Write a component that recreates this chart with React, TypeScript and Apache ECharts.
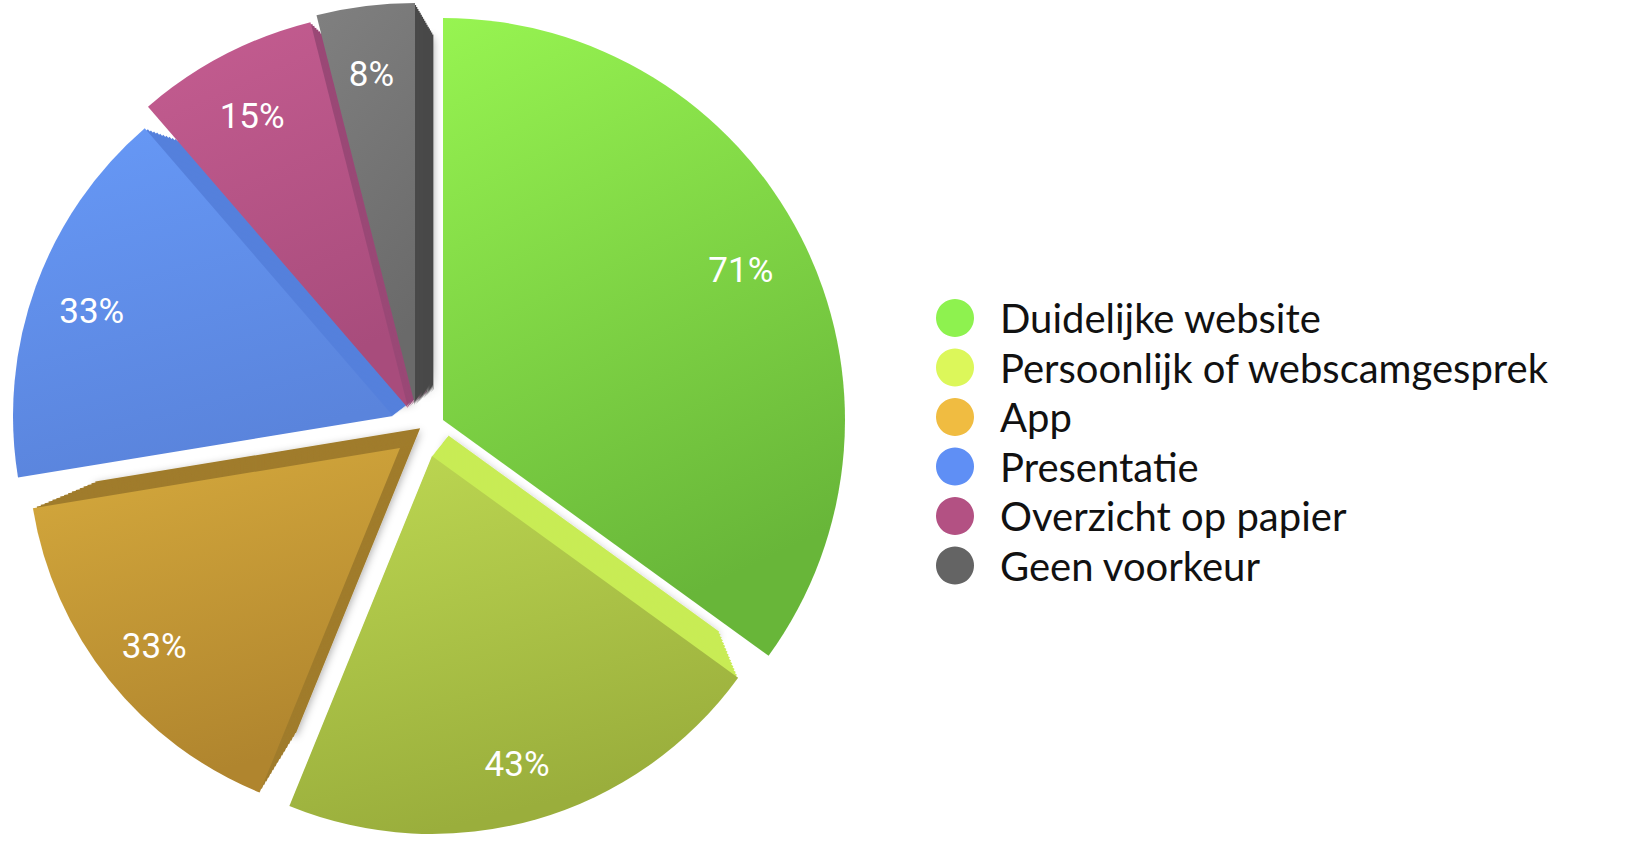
import React, { useEffect, useRef } from "react";
import * as echarts from "echarts";

const categories = [
  "Duidelijke website",
  "Persoonlijk of webscamgesprek",
  "App",
  "Presentatie",
  "Overzicht op papier",
  "Geen voorkeur",
];
const values = [71, 43, 33, 33, 15, 8];

const legendColors = ["#8ef24f", "#dcf75a", "#f0bc41", "#5f8ff5", "#b35183", "#646464"];
const faceTop = ["#97f451", "#bdd852", "#d6aa3d", "#6799f7", "#c55d91", "#808080"];
const faceBottom = ["#68b639", "#9aae3c", "#b0852e", "#5a84dc", "#a84c7c", "#6a6a6a"];
const wallColors = ["#5a9a30", "#c8ec55", "#a07c2c", "#5580dc", "#9a4876", "#494949"];

// layout of each slice's top face (pixels)
const sliceCenters = [
  [443, 420],
  [432, 456],
  [400, 448],
  [393, 416],
  [408, 408],
  [415, 405],
];
const sliceRadii = [402, 378, 372, 380, 398, 402];
const vanishPoint = [575, 277];
const depth = 0.115;
const layers = 16;

function buildOption() {
  const total = values.reduce((a, b) => a + b, 0);
  const mids: number[] = [];
  let acc = 0;
  values.forEach((v) => {
    mids.push(((acc + v / 2) / total) * Math.PI * 2);
    acc += v;
  });

  const series: any[] = [];
  values.forEach((_, i) => {
    const [cx, cy] = sliceCenters[i];
    const R = sliceRadii[i];
    for (let j = layers; j >= 1; j--) {
      const s = 1 - (depth * j) / layers;
      series.push({
        type: "pie",
        silent: true,
        animation: false,
        startAngle: 90,
        clockwise: true,
        z: 2 + (layers - j),
        center: [vanishPoint[0] + s * (cx - vanishPoint[0]), vanishPoint[1] + s * (cy - vanishPoint[1])],
        radius: s * R,
        label: { show: false },
        labelLine: { show: false },
        emphasis: { disabled: true },
        legendHoverLink: false,
        itemStyle: j === layers
          ? { borderWidth: 0, shadowBlur: 8, shadowColor: "rgba(0,0,0,0.35)", shadowOffsetY: 3 }
          : { borderWidth: 0 },
        data: values.map((v, k) => ({
          name: categories[k],
          value: v,
          itemStyle: { color: k === i ? wallColors[i] : "rgba(0,0,0,0)" },
        })),
      });
    }
    series.push({
      type: "pie",
      silent: true,
      animation: false,
      startAngle: 90,
      clockwise: true,
      z: 4 + layers,
      center: [cx, cy],
      radius: R,
      avoidLabelOverlap: false,
      labelLine: { show: false },
      emphasis: { disabled: true },
      legendHoverLink: false,
      label: {
        show: true,
        position: "inside",
        formatter: "{c}%",
        color: "#ffffff",
        fontFamily: "Roboto",
        fontSize: 35,
      },
      labelLayout: (params: any) => {
        if (params.dataIndex !== i) return {};
        const m = mids[i];
        return { dx: Math.sin(m) * 0.33 * R - 2, dy: -Math.cos(m) * 0.33 * R + 4 };
      },
      itemStyle: { borderWidth: 0 },
      data: values.map((v, k) => ({
        name: categories[k],
        value: v,
        label: { show: k === i },
        itemStyle: {
          color:
            k === i
              ? new echarts.graphic.LinearGradient(0, 0, 0.3, 1, [
                  { offset: 0, color: faceTop[i] },
                  { offset: 1, color: faceBottom[i] },
                ])
              : "rgba(0,0,0,0)",
        },
      })),
    });
  });

  return {
    animation: false,
    backgroundColor: "#ffffff",
    legend: {
      orient: "vertical",
      left: 936,
      top: 298,
      padding: 0,
      itemWidth: 38,
      itemHeight: 38,
      itemGap: 9.5,
      icon: "circle",
      selectedMode: false,
      textStyle: {
        fontFamily: "Lato",
        fontSize: 40,
        lineHeight: 38,
        color: "#111111",
        padding: [0, 0, 0, 21],
      },
      data: categories.map((n, i) => ({ name: n, itemStyle: { color: legendColors[i] } })),
    },
    series,
  };
}

export default function App() {
  const ref = useRef<HTMLDivElement>(null);
  useEffect(() => {
    if (!ref.current) return;
    const chart = echarts.init(ref.current, null, { renderer: "svg" });
    chart.setOption(buildOption() as any);
    return () => chart.dispose();
  }, []);
  return (
    <div
      ref={ref}
      style={{ position: "fixed", left: 0, top: 0, width: 1652, height: 857, background: "#fff" }}
    />
  );
}
